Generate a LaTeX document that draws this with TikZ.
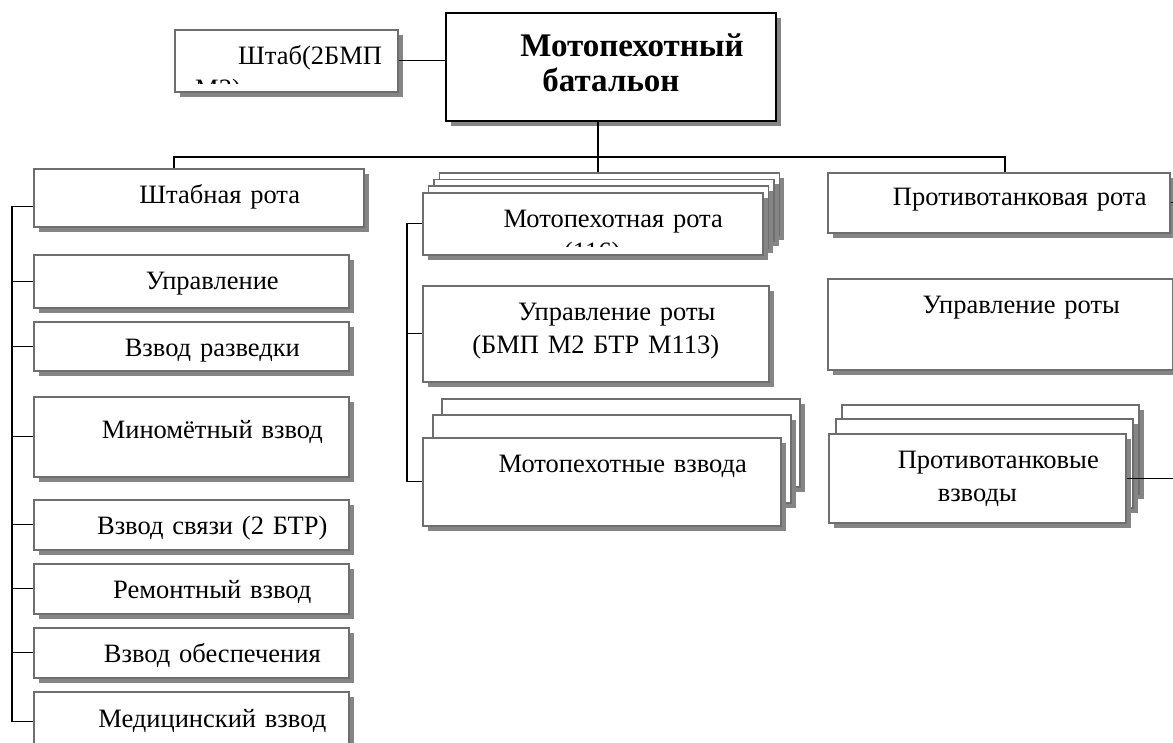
\documentclass[tikz,border=0pt]{standalone}
\usepackage{fontspec}
\setmainfont{Liberation Serif}
\usetikzlibrary{shadows}
\definecolor{Edge}{HTML}{6E6E6E}
\definecolor{Shade}{HTML}{858585}
\tikzset{
 unit/.style={draw=Edge,line width=1.6pt,fill=white,anchor=north west,inner sep=0pt,
   align=center,font=\fontsize{26.5}{33}\selectfont,text height=35pt,
   execute at begin node={\hspace*{42pt}},
   drop shadow={shadow xshift=5pt,shadow yshift=-5pt,fill=Shade,opacity=1}},
 head/.style={unit,draw=black,line width=2pt,font=\fontsize{33}{35}\selectfont\bfseries,text height=43pt},
 tag/.style={anchor=north west,inner sep=0pt,font=\fontsize{26.5}{33}\selectfont,text height=35pt},
 link/.style={draw=black,line width=1.3pt}
}
\begin{document}
\begin{tikzpicture}[x=1pt,y=-1pt]
\useasboundingbox (0,0) rectangle (1173,742);
\clip (0,0) rectangle (1173,742);
% top
\node[head,text width=330pt,text depth=65pt] (batl) at (445,12) {Мотопехотный\\батальон};
\node[unit,text width=223pt,text depth=27pt] (shtab) at (174,29) {};
\begin{scope}
\clip (shtab.north west) rectangle ([yshift=9pt]shtab.south east);
\node[tag,text width=200pt,align=left] (shtab-t) at (195,29) {\hspace*{43pt}Штаб(2БМП\\М2)};
\end{scope}
% left column
\node[unit,text width=330pt,text depth=23pt] (hq) at (33,168) {Штабная рота};
\node[unit,text width=315pt,text depth=18pt] (upr) at (33,254) {Управление};
\node[unit,text width=315pt,text depth=14pt] (razv) at (33,321) {Взвод разведки};
\node[unit,text width=315pt,text height=42pt,text depth=38pt] (mino) at (33,396) {Миномётный взвод};
\node[unit,text width=315pt,text depth=15pt] (svyaz) at (33,499) {Взвод связи (2 БТР)};
\node[unit,text width=315pt,text depth=15pt] (remont) at (33,563) {Ремонтный взвод};
\node[unit,text width=315pt,text depth=15pt] (obesp) at (33,627) {Взвод обеспечения};
\node[unit,text width=315pt,text height=36pt,text depth=23pt] (med) at (33,691) {Медицинский взвод};
% middle column
\foreach \k in {3,2,1}
  \node[unit,text width=340pt,text depth=27pt] (mprota-\k) at (422+5.5*\k,192-6.7*\k) {};
\node[unit,text width=340pt,text depth=27pt] (mprota) at (422,192) {};
\begin{scope}
\clip (mprota.north west) rectangle ([yshift=9pt]mprota.south east);
\node[tag,text width=340pt,align=center] (mprota-t) at (mprota.north west) {\hspace*{42pt}Мотопехотная рота\\(116)};
\end{scope}
\node[unit,text width=346pt,text depth=61pt] (uprrota) at (422,285) {Управление роты\\(БМП М2 БТР М113)};
\foreach \dx/\dy [count=\i] in {19/39,10/23}
  \node[unit,text width=358pt,text depth=53pt] (mpvzv-\i) at (422+\dx,437-\dy) {};
\node[unit,text width=358pt,text depth=53pt] (mpvzv) at (422,437) {Мотопехотные взвода};
% right column
\node[unit,text width=342pt,text height=33pt,text depth=27pt] (ptrota) at (827,172) {Противотанковая рота};
\node[unit,text width=345pt,text depth=56pt] (ptupr) at (827,278) {Управление роты};
\foreach \dx/\dy [count=\i] in {13/29,7/15}
  \node[unit,text width=297pt,text depth=54pt] (ptvzv-\i) at (828+\dx,433-\dy) {};
\node[unit,text width=297pt,text depth=54pt] (ptvzv) at (828,433) {Противотанковые\\взводы};
% connectors
\coordinate (bus) at (598,157);
\coordinate (busL) at (174,157);
\coordinate (busR) at (1005,157);
\coordinate (spL) at (12,0);
\coordinate (spM) at (407,0);
\coordinate (spR) at (1195,0);
\draw[link] (shtab.east) -- (shtab.east -| batl.west);
\draw[link] (batl.south -| bus) -- (bus);
\draw[link] (busL |- hq.north) -- (busL) -- (busR) -- (busR |- ptrota.north);
\draw[link] (bus) -- (bus |- mprota-3.north);
\draw[link] ([yshift=-9pt]hq.west) -| (spL |- med.west) -- (med.west);
\foreach \n in {upr,razv,mino,svyaz,remont,obesp}
  \draw[link] (\n.west) -- (\n.west -| spL);
\draw[link] (mprota.west) -| (spM |- mpvzv.west) -- (mpvzv.west);
\draw[link] (uprrota.west) -- (uprrota.west -| spM);
\draw[link] (ptrota.east) -| (spR |- ptvzv.east) -- (ptvzv.east);
\draw[link] (ptupr.east) -- (ptupr.east -| spR);
\end{tikzpicture}
\end{document}
